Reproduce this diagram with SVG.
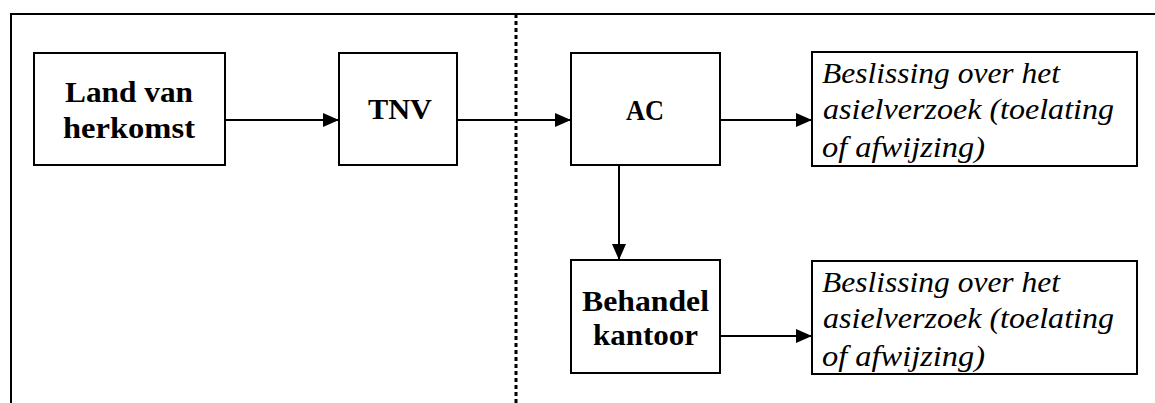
<svg xmlns="http://www.w3.org/2000/svg" width="1155" height="403" viewBox="0 0 1155 403">
<style>
.box{fill:#fff;stroke:#000;stroke-width:2}
.b{font-family:"Liberation Serif","DejaVu Serif",serif;font-weight:bold;font-size:29px;fill:#000}
.i{font-family:"Liberation Serif","DejaVu Serif",serif;font-style:italic;font-size:29px;fill:#000}
.c{stroke:#000;stroke-width:2;fill:none}
</style>
<defs>
<marker id="ah" markerWidth="16" markerHeight="14" refX="16" refY="7" orient="auto" markerUnits="userSpaceOnUse">
<path d="M0,0 L16,7 L0,14 Z" fill="#000"/>
</marker>
</defs>
<rect width="1155" height="403" fill="#fff"/>
<path d="M11,403 V14 H1155" fill="none" stroke="#000" stroke-width="2"/>
<line x1="516" y1="14" x2="516" y2="403" stroke="#000" stroke-width="3" stroke-dasharray="4,3"/>
<g id="connectors">
<line class="c" x1="225" y1="120" x2="339" y2="120" marker-end="url(#ah)"/>
<line class="c" x1="457" y1="120" x2="571" y2="120" marker-end="url(#ah)"/>
<line class="c" x1="720" y1="120" x2="812" y2="120" marker-end="url(#ah)"/>
<line class="c" x1="619" y1="166" x2="619" y2="260" marker-end="url(#ah)"/>
<line class="c" x1="720" y1="336" x2="812" y2="336" marker-end="url(#ah)"/>
</g>
<g id="land">
<rect class="box" x="34" y="53" width="191" height="112"/>
<text class="b" x="65" y="102" textLength="128" lengthAdjust="spacingAndGlyphs">Land van</text>
<text class="b" x="63" y="138" textLength="132" lengthAdjust="spacingAndGlyphs">herkomst</text>
</g>
<g id="tnv">
<rect class="box" x="339" y="53" width="118" height="112"/>
<text class="b" x="368" y="119" textLength="64" lengthAdjust="spacingAndGlyphs">TNV</text>
</g>
<g id="ac">
<rect class="box" x="571" y="53" width="149" height="112"/>
<text class="b" x="626" y="120" textLength="38" lengthAdjust="spacingAndGlyphs">AC</text>
</g>
<g id="besl1">
<rect class="box" x="812" y="52" width="325" height="114"/>
<text class="i" x="822" y="83" textLength="238" lengthAdjust="spacingAndGlyphs">Beslissing over het</text>
<text class="i" x="823" y="119" textLength="291" lengthAdjust="spacingAndGlyphs">asielverzoek (toelating</text>
<text class="i" x="822" y="157" textLength="163" lengthAdjust="spacingAndGlyphs">of afwijzing)</text>
</g>
<g id="behandel">
<rect class="box" x="571" y="260" width="149" height="113"/>
<text class="b" x="582" y="311" textLength="127" lengthAdjust="spacingAndGlyphs">Behandel</text>
<text class="b" x="593" y="345" textLength="105" lengthAdjust="spacingAndGlyphs">kantoor</text>
</g>
<g id="besl2">
<rect class="box" x="812" y="261" width="325" height="113"/>
<text class="i" x="822" y="292" textLength="238" lengthAdjust="spacingAndGlyphs">Beslissing over het</text>
<text class="i" x="823" y="328" textLength="291" lengthAdjust="spacingAndGlyphs">asielverzoek (toelating</text>
<text class="i" x="822" y="366" textLength="163" lengthAdjust="spacingAndGlyphs">of afwijzing)</text>
</g>
</svg>
